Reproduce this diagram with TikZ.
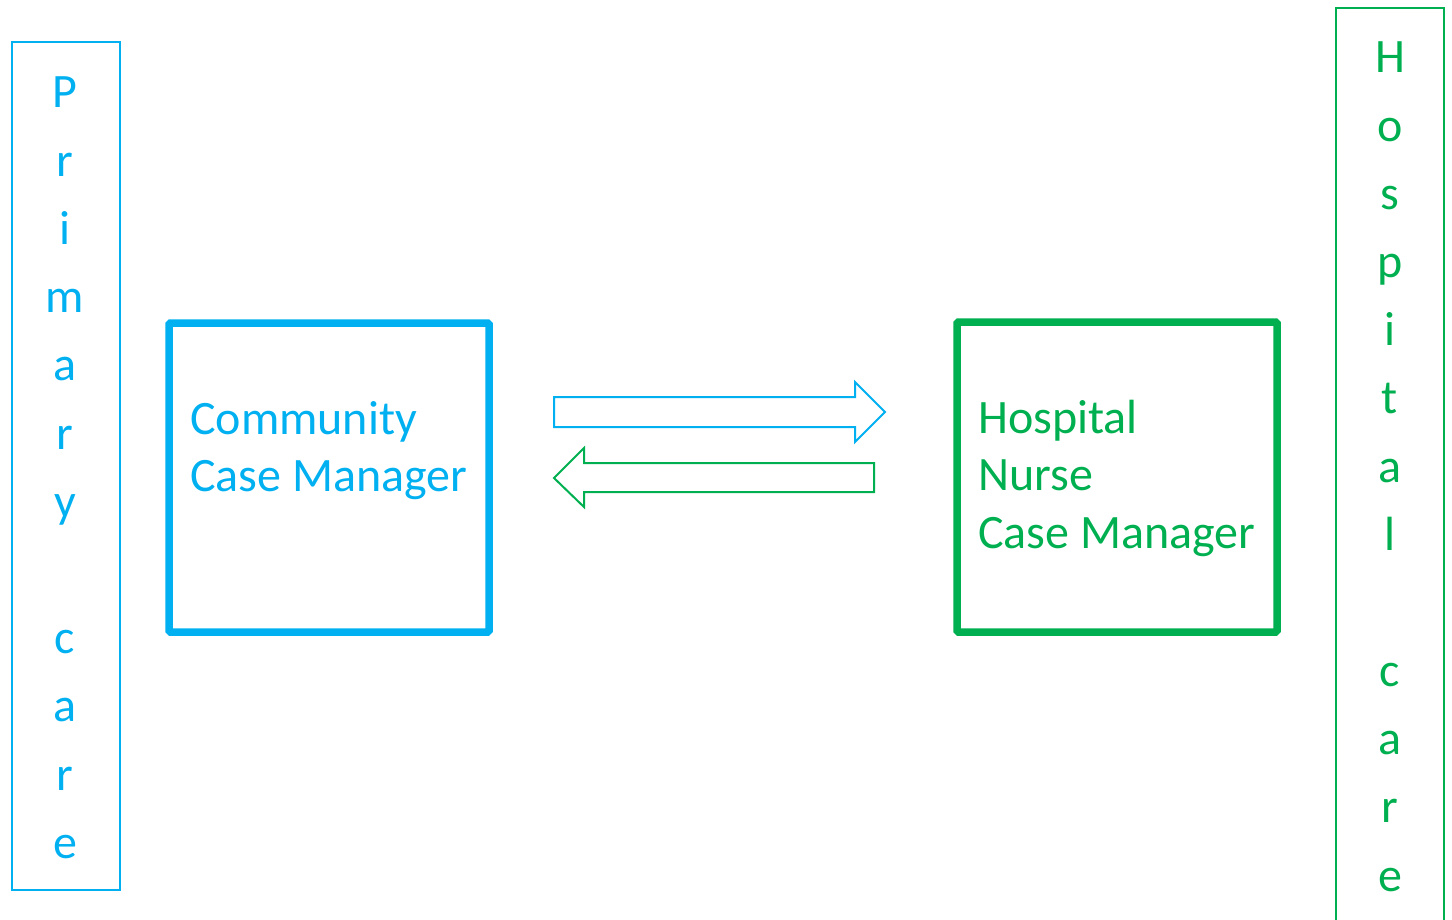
\documentclass[tikz,border=0pt]{standalone}
\usepackage{fontspec}
\setmainfont{Carlito}
\definecolor{pblue}{HTML}{00B0F0}
\definecolor{hgreen}{HTML}{00B050}
\begin{document}
\begin{tikzpicture}[x=1pt,y=-1pt,
  tallbox/.style={line width=2.5pt},
  mainbox/.style={line width=7.5pt, rounded corners=1.5pt},
  blockarrow/.style={line width=2pt, line join=miter},
  vletter/.style={anchor=base, inner sep=0pt, font=\fontsize{48}{58}\selectfont},
  boxtext/.style={anchor=base west, inner sep=0pt, font=\fontsize{48}{58}\selectfont}]
\useasboundingbox (0,0) rectangle (1452,920);
% tall side boxes
\draw[tallbox, pblue] (12,42) rectangle (120,890);
\draw[tallbox, hgreen] (1336,925) -- (1336,8) -- (1444,8) -- (1444,925);
\foreach \ch [count=\i] in {P,r,i,m,a,r,y,{},c,a,r,e}
  \node[vletter, text=pblue, name=pl\i] at (65,{108+68.2*(\i-1)}) {\ch};
\foreach \ch [count=\i] in {H,o,s,p,i,t,a,l,{},c,a,r,e}
  \node[vletter, text=hgreen, name=hl\i] at (1390,{73+68.17*(\i-1)}) {\ch};
% main boxes
\draw[mainbox, pblue] (169,323) rectangle (489,632);
\draw[mainbox, hgreen] (957,322) rectangle (1277,632);
\node[boxtext, text=pblue] (c1) at (190,434) {Community};
\node[boxtext, text=pblue] (c2) at (190,491) {Case Manager};
\node[boxtext, text=hgreen] (h1) at (978,433) {Hospital};
\node[boxtext, text=hgreen] (h2) at (978,490) {Nurse};
\node[boxtext, text=hgreen] (h3) at (978,548) {Case Manager};
% block arrows
\draw[blockarrow, pblue] (554,397) -- (855,397) -- (855,382) -- (885,412) -- (855,442) -- (855,427) -- (554,427) -- cycle;
\draw[blockarrow, hgreen] (874,463) -- (584,463) -- (584,448) -- (554,478) -- (584,507) -- (584,492) -- (874,492) -- cycle;
\end{tikzpicture}
\end{document}
